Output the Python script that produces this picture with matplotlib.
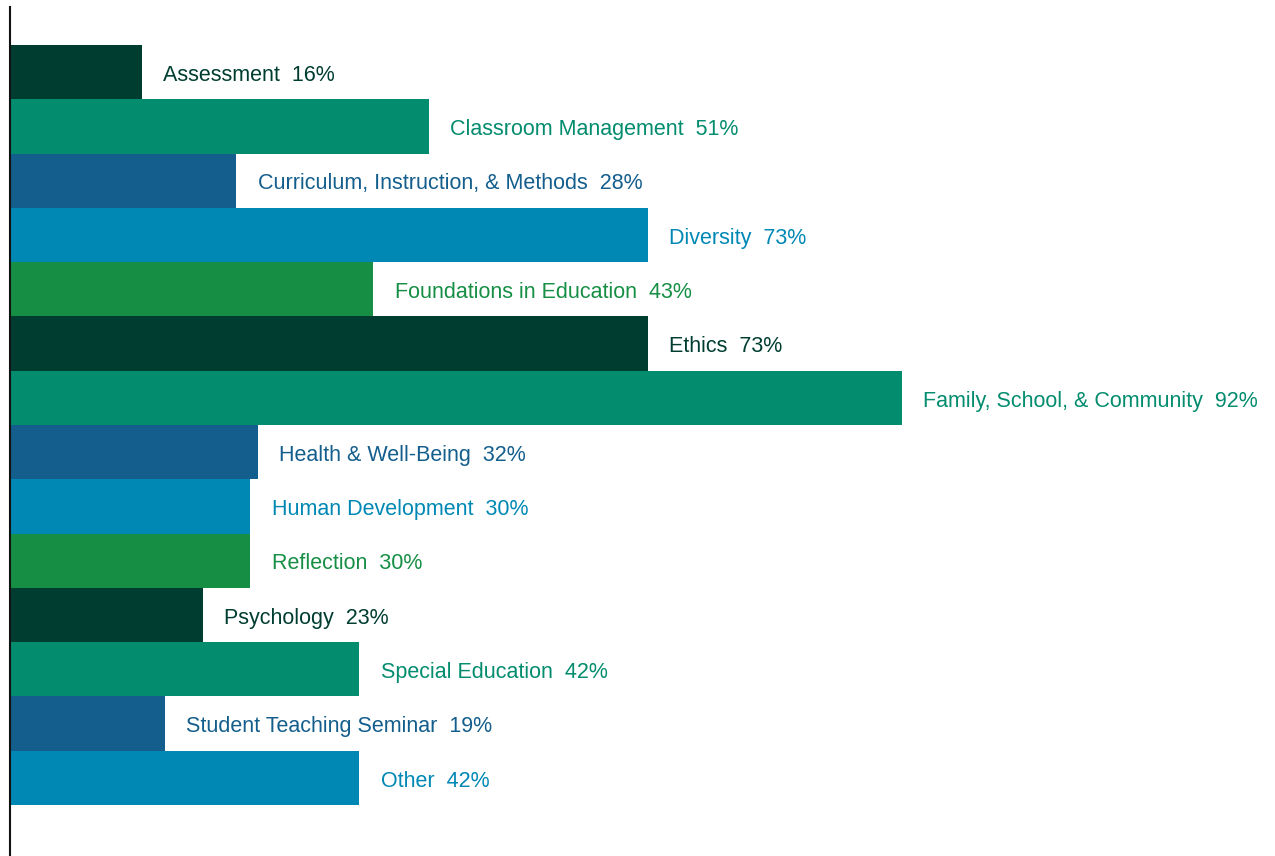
import matplotlib.pyplot as plt

categories = ["Assessment", "Classroom Management", "Curriculum, Instruction, & Methods",
              "Diversity", "Foundations in Education", "Ethics",
              "Family, School, & Community", "Health & Well-Being", "Human Development",
              "Reflection", "Psychology", "Special Education",
              "Student Teaching Seminar", "Other"]
percents = [16, 51, 28, 73, 43, 73, 92, 32, 30, 30, 23, 42, 19, 42]
# bar lengths as drawn in the original (not strictly proportional to the labels)
bar_lengths = [16.1, 51.1, 27.6, 77.8, 44.3, 77.8, 108.8, 30.2, 29.3, 29.3, 23.5, 42.6, 18.9, 42.6]

palette = ["#003D31", "#038C6E", "#135E8C", "#0088B5", "#168F45"]
colors = [palette[i % 5] for i in range(len(categories))]

plt.rcParams['font.family'] = ['Liberation Sans', 'DejaVu Sans']

fig = plt.figure(figsize=(12.75, 8.56), dpi=100)
ax = fig.add_axes([10 / 1275, 0, 1 - 10 / 1275, 1 - 7 / 856])

ypos = list(range(len(categories)))
ax.barh(ypos, bar_lengths, height=1.0, color=colors, edgecolor="none")

for y, L, name, p, c in zip(ypos, bar_lengths, categories, percents, colors):
    ax.text(L + 2.6, y + 0.06, f"{name}  {p}%", color=c, fontsize=15.5,
            va="center", ha="left")

ax.set_xlim(0, 1265 / 8.2)
ax.set_ylim(14.44, -1.2)
for s in ["top", "right", "bottom"]:
    ax.spines[s].set_visible(False)
ax.spines["left"].set_linewidth(1.5)
ax.spines["left"].set_color("#111111")
ax.set_xticks([])
ax.set_yticks([])

fig.savefig("out.png", dpi=100)
